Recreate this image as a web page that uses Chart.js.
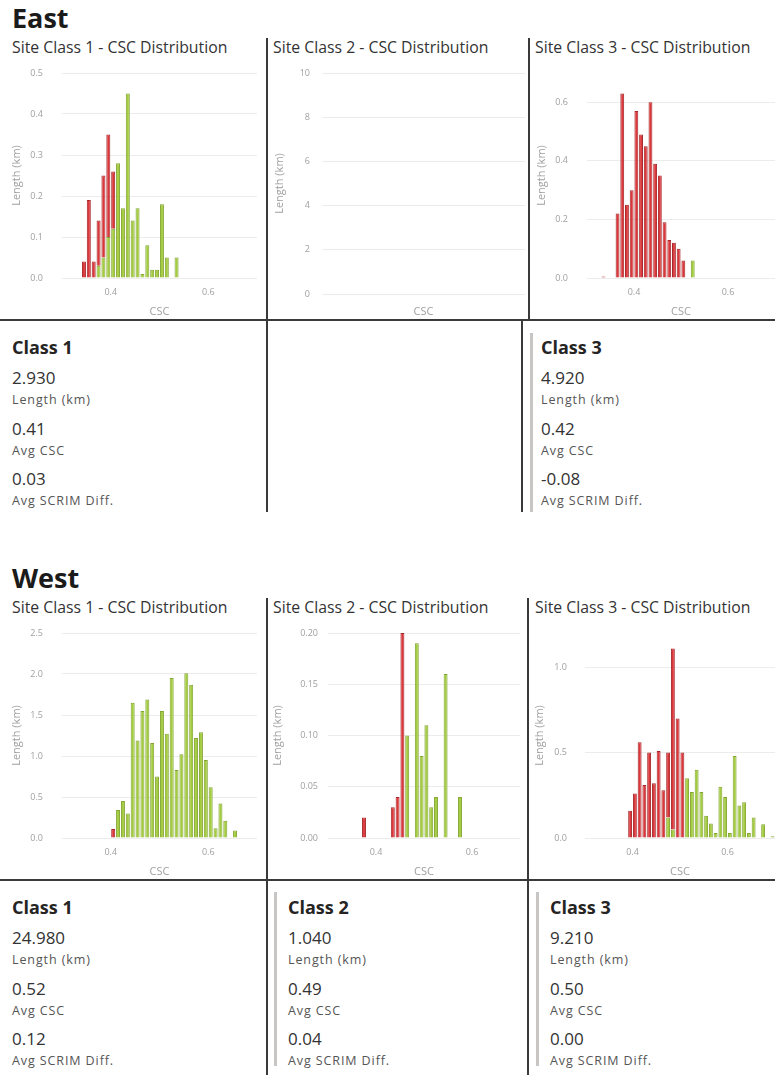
<!DOCTYPE html>
<html>
<head>
<meta charset="utf-8">
<script src="https://cdn.jsdelivr.net/npm/chart.js@4.4.0/dist/chart.umd.min.js"></script>
<style>
  body { margin: 0; background: #fff; font-family: 'Segoe UI', 'Open Sans', sans-serif; }
  #page { position: relative; width: 775px; height: 1075px; overflow: hidden; }
  .region { position: absolute; left: 12px; font-size: 27px; line-height: 32px; font-weight: 700; color: #1b1b1b; }
  .ctitle { position: absolute; font-size: 15.8px; line-height: 20px; color: #333; white-space: nowrap; }
  .cbox { position: absolute; }
  .dark { position: absolute; background: #3a3a3a; }
  .accent { position: absolute; background: #c8c6c4; width: 3px; }
  .stat { position: absolute; white-space: nowrap; }
  .stat .t { position: absolute; top: 0; font-size: 18px; line-height: 26px; font-weight: 700; color: #252423; }
  .stat .v { position: absolute; font-size: 17px; line-height: 22px; color: #333; }
  .stat .l { position: absolute; font-size: 12.5px; line-height: 16px; letter-spacing: 0.9px; color: #555; }
</style>
</head>
<body>
<div id="page">
  <div class="region" style="top:2px">East</div>
  <div class="ctitle" style="left:12px;top:37px">Site Class 1 - CSC Distribution</div>
  <div class="ctitle" style="left:273px;top:37px">Site Class 2 - CSC Distribution</div>
  <div class="ctitle" style="left:535px;top:37px">Site Class 3 - CSC Distribution</div>
  <div class="cbox" style="left:0;top:58px"><canvas id="eastC1" width="266" height="262"></canvas></div>
  <div class="cbox" style="left:270px;top:58px"><canvas id="eastC2" width="257" height="262"></canvas></div>
  <div class="cbox" style="left:532px;top:58px"><canvas id="eastC3" width="243" height="262"></canvas></div>

  <div class="dark" style="left:0;top:319px;width:775px;height:2px"></div>
  <div class="dark" style="left:266px;top:38px;width:2px;height:474px"></div>
  <div class="dark" style="left:528px;top:38px;width:2px;height:282px"></div>
  <div class="dark" style="left:521px;top:320px;width:2px;height:192px"></div>
  <div class="accent" style="left:530px;top:333px;height:179px"></div>

  <div class="region" style="top:562px">West</div>
  <div class="ctitle" style="left:12px;top:597px">Site Class 1 - CSC Distribution</div>
  <div class="ctitle" style="left:273px;top:597px">Site Class 2 - CSC Distribution</div>
  <div class="ctitle" style="left:535px;top:597px">Site Class 3 - CSC Distribution</div>
  <div class="cbox" style="left:0;top:618px"><canvas id="westC1" width="266" height="262"></canvas></div>
  <div class="cbox" style="left:270px;top:618px"><canvas id="westC2" width="257" height="262"></canvas></div>
  <div class="cbox" style="left:532px;top:618px"><canvas id="westC3" width="243" height="262"></canvas></div>

  <div class="dark" style="left:0;top:879px;width:775px;height:2px"></div>
  <div class="dark" style="left:266px;top:598px;width:2px;height:477px"></div>
  <div class="dark" style="left:527px;top:598px;width:2px;height:477px"></div>
  <div class="accent" style="left:274px;top:892px;height:174px"></div>
  <div class="accent" style="left:536px;top:892px;height:174px"></div>
</div>

<script>
// CSC bins are 0.01 wide, values are the bin centres; lengths in km
const xTickVals = [0.4, 0.6];

const eastC1Csc = [0.345, 0.355, 0.365, 0.375, 0.385, 0.395, 0.405, 0.415, 0.425, 0.435, 0.445, 0.455, 0.465, 0.475, 0.485, 0.495, 0.505, 0.515, 0.525, 0.535];
const eastC1Fail = [0.04, 0.19, 0.04, 0.11, 0.20, 0.25, 0.14, 0, 0, 0, 0, 0, 0, 0, 0, 0, 0, 0, 0, 0];
const eastC1Pass = [0, 0, 0, 0.03, 0.05, 0.10, 0.12, 0.28, 0.17, 0.45, 0.14, 0.17, 0.01, 0.08, 0.02, 0.02, 0.18, 0.05, 0, 0.05];
const eastC1YTicks = [0, 0.1, 0.2, 0.3, 0.4, 0.5];

const eastC2YTicks = [0, 2, 4, 6, 8, 10];

const eastC3Csc = [0.335, 0.345, 0.355, 0.365, 0.375, 0.385, 0.395, 0.405, 0.415, 0.425, 0.435, 0.445, 0.455, 0.465, 0.475, 0.485, 0.495, 0.505, 0.515, 0.525];
const eastC3Fail = [0.005, 0, 0, 0.22, 0.63, 0.25, 0.30, 0.57, 0.49, 0.45, 0.60, 0.39, 0.35, 0.19, 0.13, 0.12, 0.10, 0.06, 0, 0];
const eastC3Pass = [0, 0, 0, 0, 0, 0, 0, 0, 0, 0, 0, 0, 0, 0, 0, 0, 0, 0, 0, 0.06];
const eastC3YTicks = [0, 0.2, 0.4, 0.6];

const westC1Csc = [0.405, 0.415, 0.425, 0.435, 0.445, 0.455, 0.465, 0.475, 0.485, 0.495, 0.505, 0.515, 0.525, 0.535, 0.545, 0.555, 0.565, 0.575, 0.585, 0.595, 0.605, 0.615, 0.625, 0.635, 0.645, 0.655];
const westC1Fail = [0.11, 0, 0, 0, 0, 0, 0, 0, 0, 0, 0, 0, 0, 0, 0, 0, 0, 0, 0, 0, 0, 0, 0, 0, 0, 0];
const westC1Pass = [0, 0.34, 0.45, 0.30, 1.65, 1.19, 1.55, 1.69, 1.16, 0.75, 1.55, 1.27, 1.95, 0.83, 1.02, 2.01, 1.87, 1.22, 1.29, 0.95, 0.62, 0.12, 0.42, 0.21, 0, 0.09];
const westC1YTicks = [0, 0.5, 1.0, 1.5, 2.0, 2.5];

const westC2Csc = [0.375, 0.385, 0.395, 0.405, 0.415, 0.425, 0.435, 0.445, 0.455, 0.465, 0.475, 0.485, 0.495, 0.505, 0.515, 0.525, 0.535, 0.545, 0.555, 0.565, 0.575];
const westC2Fail = [0.02, 0, 0, 0, 0, 0, 0.03, 0.04, 0.20, 0, 0, 0, 0, 0, 0, 0, 0, 0, 0, 0, 0];
const westC2Pass = [0, 0, 0, 0, 0, 0, 0, 0, 0, 0.10, 0, 0.19, 0.08, 0.11, 0.03, 0.04, 0, 0.16, 0, 0, 0.04];
const westC2YTicks = [0, 0.05, 0.10, 0.15, 0.20];

const westC3Csc = [0.395, 0.405, 0.415, 0.425, 0.435, 0.445, 0.455, 0.465, 0.475, 0.485, 0.495, 0.505, 0.515, 0.525, 0.535, 0.545, 0.555, 0.565, 0.575, 0.585, 0.595, 0.605, 0.615, 0.625, 0.635, 0.645, 0.655, 0.665, 0.675, 0.685, 0.695];
const westC3Fail = [0.16, 0.26, 0.56, 0.31, 0.50, 0.32, 0.51, 0.28, 0.38, 1.06, 0.70, 0.50, 0, 0, 0, 0, 0, 0, 0, 0, 0, 0, 0, 0, 0, 0, 0, 0, 0, 0, 0];
const westC3Pass = [0, 0, 0, 0, 0, 0, 0, 0, 0.12, 0.05, 0, 0, 0.35, 0.27, 0.40, 0.27, 0.13, 0.085, 0.03, 0.30, 0.24, 0.03, 0.48, 0.19, 0.21, 0.03, 0.12, 0, 0.08, 0, 0.01];
const westC3YTicks = [0, 0.5, 1.0];

// summary cards
const eastClasses = ['Class 1', null, 'Class 3'];
const eastLength = ['2.930', null, '4.920'];
const eastAvgCsc = ['0.41', null, '0.42'];
const eastScrimDiff = ['0.03', null, '-0.08'];

const westClasses = ['Class 1', 'Class 2', 'Class 3'];
const westLength = ['24.980', '1.040', '9.210'];
const westAvgCsc = ['0.52', '0.49', '0.50'];
const westScrimDiff = ['0.12', '0.04', '0.00'];

const statNames = ['Length (km)', 'Avg CSC', 'Avg SCRIM Diff.'];

const RED = '#dc383c', RED_EDGE = '#a5272a';
const GREEN = '#a4cc40', GREEN_EDGE = '#83a532';
const AXIS_GREY = '#a0a0a0';

Chart.defaults.font.family = "'Segoe UI', 'Open Sans', sans-serif";

function histogram(id, csc, fail, pass, yTicks, yMax, yDec, o) {
  const toPts = arr => csc.map((x, i) => ({ x: x, y: arr[i] ? arr[i] : null }));
  new Chart(document.getElementById(id), {
    type: 'bar',
    data: {
      datasets: [
        { label: 'Pass', data: toPts(pass), backgroundColor: GREEN, borderColor: GREEN_EDGE, borderWidth: 1 },
        { label: 'Fail', data: toPts(fail), backgroundColor: RED, borderColor: RED_EDGE, borderWidth: 1 }
      ]
    },
    options: {
      responsive: false,
      animation: false,
      layout: { padding: { left: o.padL, right: o.padR, top: 15, bottom: 1 } },
      plugins: { legend: { display: false }, tooltip: { enabled: false } },
      datasets: { bar: { barPercentage: 0.82, categoryPercentage: 1 } },
      scales: {
        x: {
          type: 'linear', stacked: true, offset: false,
          min: o.xMin, max: o.xMax,
          grid: { display: false, drawTicks: false, offset: false }, border: { display: false },
          afterBuildTicks: axis => { axis.ticks = o.xTicks.map(v => ({ value: v })); },
          afterFit: axis => { axis.height = o.xHeight; },
          ticks: { display: o.xTicks.length > 0, color: AXIS_GREY, font: { size: 9 }, padding: 9, maxRotation: 0,
                   callback: v => v.toFixed(1) },
          title: { display: true, text: 'CSC', color: AXIS_GREY, font: { size: 11 }, padding: { top: 0, bottom: 1 } }
        },
        y: {
          stacked: true, min: 0, max: yMax,
          afterBuildTicks: axis => { axis.ticks = yTicks.map(v => ({ value: v })); },
          afterFit: axis => { axis.width = o.yWidth; },
          grid: { color: '#ececec', drawTicks: true, tickLength: o.yTick, tickColor: 'rgba(0,0,0,0)' },
          border: { display: false },
          ticks: { color: AXIS_GREY, font: { size: 9 }, padding: 0, callback: v => v.toFixed(yDec) },
          title: { display: true, text: 'Length (km)', color: AXIS_GREY, font: { size: 11 }, padding: { top: 0, bottom: 0 } }
        }
      }
    }
  });
}

const std = { xMin: 0.3, xMax: 0.7, xTicks: xTickVals, xHeight: 41 };
histogram('eastC1', eastC1Csc, eastC1Fail, eastC1Pass, eastC1YTicks, 0.5, 1,
  Object.assign({}, std, { padL: 10, padR: 9, yWidth: 52, yTick: 19 }));
histogram('eastC2', [], [], [], eastC2YTicks, 10, 0,
  { xMin: 0, xMax: 1, xTicks: [], xHeight: 25, padL: 3, padR: 2, yWidth: 49, yTick: 12 });
histogram('eastC3', eastC3Csc, eastC3Fail, eastC3Pass, eastC3YTicks, 0.7, 1,
  Object.assign({}, std, { padL: 3, padR: 0, yWidth: 52, yTick: 19 }));
histogram('westC1', westC1Csc, westC1Fail, westC1Pass, westC1YTicks, 2.5, 1,
  Object.assign({}, std, { padL: 10, padR: 9, yWidth: 52, yTick: 19 }));
histogram('westC2', westC2Csc, westC2Fail, westC2Pass, westC2YTicks, 0.20, 2,
  Object.assign({}, std, { padL: 1, padR: 7, yWidth: 57, yTick: 10 }));
histogram('westC3', westC3Csc, westC3Fail, westC3Pass, westC3YTicks, 1.2, 1,
  Object.assign({}, std, { padL: 1, padR: 0, yWidth: 52, yTick: 18 }));

function statCard(left, top, title, vals) {
  const card = document.createElement('div');
  card.className = 'stat';
  card.style.left = left + 'px';
  card.style.top = top + 'px';
  let html = '<div class="t">' + title + '</div>';
  vals.forEach((v, i) => {
    html += '<div class="v" style="top:' + (33 + i * 50.5) + 'px">' + v + '</div>';
    html += '<div class="l" style="top:' + (58 + i * 50.5) + 'px">' + statNames[i] + '</div>';
  });
  card.innerHTML = html;
  document.getElementById('page').appendChild(card);
}

const eastLefts = [12, 0, 541];
const westLefts = [12, 288, 550];
eastClasses.forEach((c, i) => {
  if (c) statCard(eastLefts[i], 334, c, [eastLength[i], eastAvgCsc[i], eastScrimDiff[i]]);
});
westClasses.forEach((c, i) => {
  statCard(westLefts[i], 894, c, [westLength[i], westAvgCsc[i], westScrimDiff[i]]);
});
</script>
</body>
</html>
